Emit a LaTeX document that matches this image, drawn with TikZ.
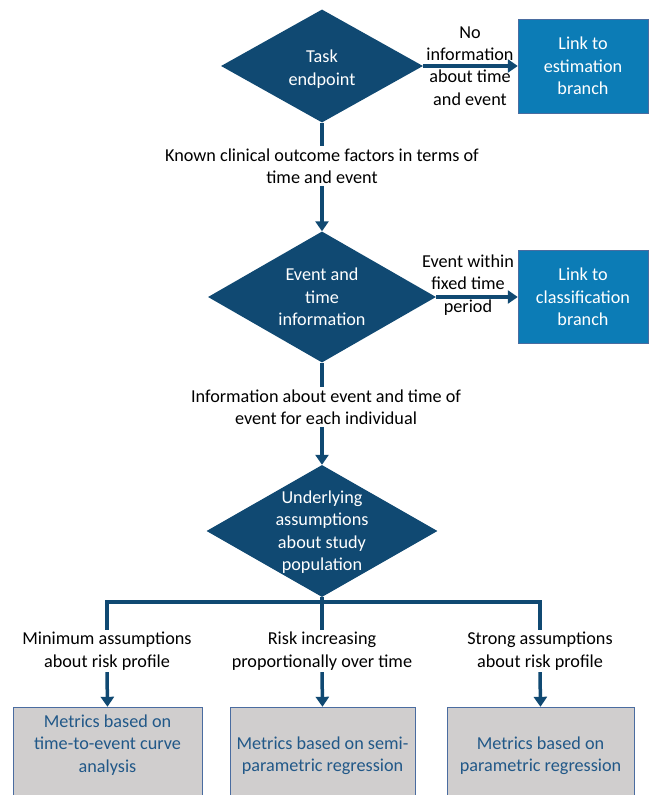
\documentclass[tikz,border=0pt]{standalone}
\usepackage{fontspec}
\setmainfont{Carlito}
\usepackage{tikz}
\usetikzlibrary{shapes.geometric}
\usetikzlibrary{arrows.meta}
\definecolor{navy}{RGB}{16,73,114}
\definecolor{linkblue}{RGB}{12,124,182}
\definecolor{boxgrey}{RGB}{208,206,206}
\definecolor{boxline}{RGB}{74,108,160}
\definecolor{metrictext}{RGB}{33,88,136}
\tikzstyle{flow}=[x=1pt, y=-1pt, font=\fontsize{18.2}{22.4}\selectfont]
\tikzstyle{decision}=[diamond, fill=navy, inner sep=0pt]
\tikzstyle{dtext}=[text=white, align=center, inner sep=0pt]
\tikzstyle{linkbox}=[rectangle, fill=linkblue, draw=boxline, thin, text=white, align=center, minimum width=130pt, minimum height=94pt]
\tikzstyle{metric}=[rectangle, fill=boxgrey, draw=boxline, thin, text=metrictext, align=center, minimum height=98pt]
\tikzstyle{mtext}=[text=metrictext, align=center, inner sep=0pt]
\tikzstyle{cond}=[align=center, inner sep=2pt]
\tikzstyle{edge}=[draw=navy, line width=3.5pt, -{Triangle[width=13pt, length=10pt]}]
\tikzstyle{wedge}=[draw=navy, line width=3.5pt]

\begin{document}
\begin{tikzpicture}[flow]
	\clip (0,0) rectangle (649,795);

	%The decisions
	\draw (322,66) node[decision, minimum width=202pt, minimum height=113pt, label={[dtext, yshift=-3pt]center:Task\\endpoint}] (d1) {};
	\draw (322,297) node[decision, minimum width=228pt, minimum height=131pt, label={[dtext]center:Event and\\time\\information}] (d2) {};
	\draw (322,531) node[decision, minimum width=231pt, minimum height=132pt, label={[dtext, yshift=-1pt]center:Underlying\\assumptions\\about study\\population}] (d3) {};

	%The link boxes
	\draw (583,66) node[linkbox] (b1) {Link to\\estimation\\branch};
	\draw (583,297) node[linkbox, minimum height=93pt] (b2) {Link to\\classification\\branch};

	%The conditions
	\draw (322,166) node[cond] (q1) {Known clinical outcome factors in terms of\\time and event};
	\draw (326,407) node[cond] (q2) {Information about event and time of\\event for each individual};
	\draw (470,66) node[cond] (r1) {No\\information\\about time\\and event};
	\draw (468,285) node[cond] (r2) {Event within\\fixed time\\period};
	\draw (107,651) node[cond] (l1) {Minimum assumptions\\about risk profile};
	\draw (322,651) node[cond] (l2) {Risk increasing\\proportionally over time};
	\draw (540,651) node[cond] (l3) {Strong assumptions\\about risk profile};

	%The metric boxes
	\draw (107.5,756) node[metric, minimum width=189pt, label={[mtext, yshift=11pt]center:Metrics based on\\time-to-event curve\\analysis}] (m1) {};
	\draw (322.5,756) node[metric, minimum width=185pt] (m2) {Metrics based on semi-\\parametric regression};
	\draw (540.5,756) node[metric, minimum width=187pt] (m3) {Metrics based on\\parametric regression};

	%The connections
	\coordinate (bar) at (322,602);
	\draw[wedge] (d1.south) -- (d1.south |- q1.north);
	\draw[edge] (q1.south -| d2.north) -- (d2.north);
	\draw[wedge] (d2.south) -- (d2.south |- q2.north);
	\draw[edge] (q2.south -| d3.north) -- (d3.north);
	\draw[edge] (d1.east) -- (b1.west);
	\draw[edge] (d2.east) -- (b2.west);
	\draw[wedge] (d3.south) -- (l2.north);
	\draw[wedge] (l1.north) |- (bar) -| (l3.north);
	\draw[edge] (l1.south) -- (m1.north);
	\draw[edge] (l2.south) -- (m2.north);
	\draw[edge] (l3.south) -- (m3.north);
\end{tikzpicture}
\end{document}
